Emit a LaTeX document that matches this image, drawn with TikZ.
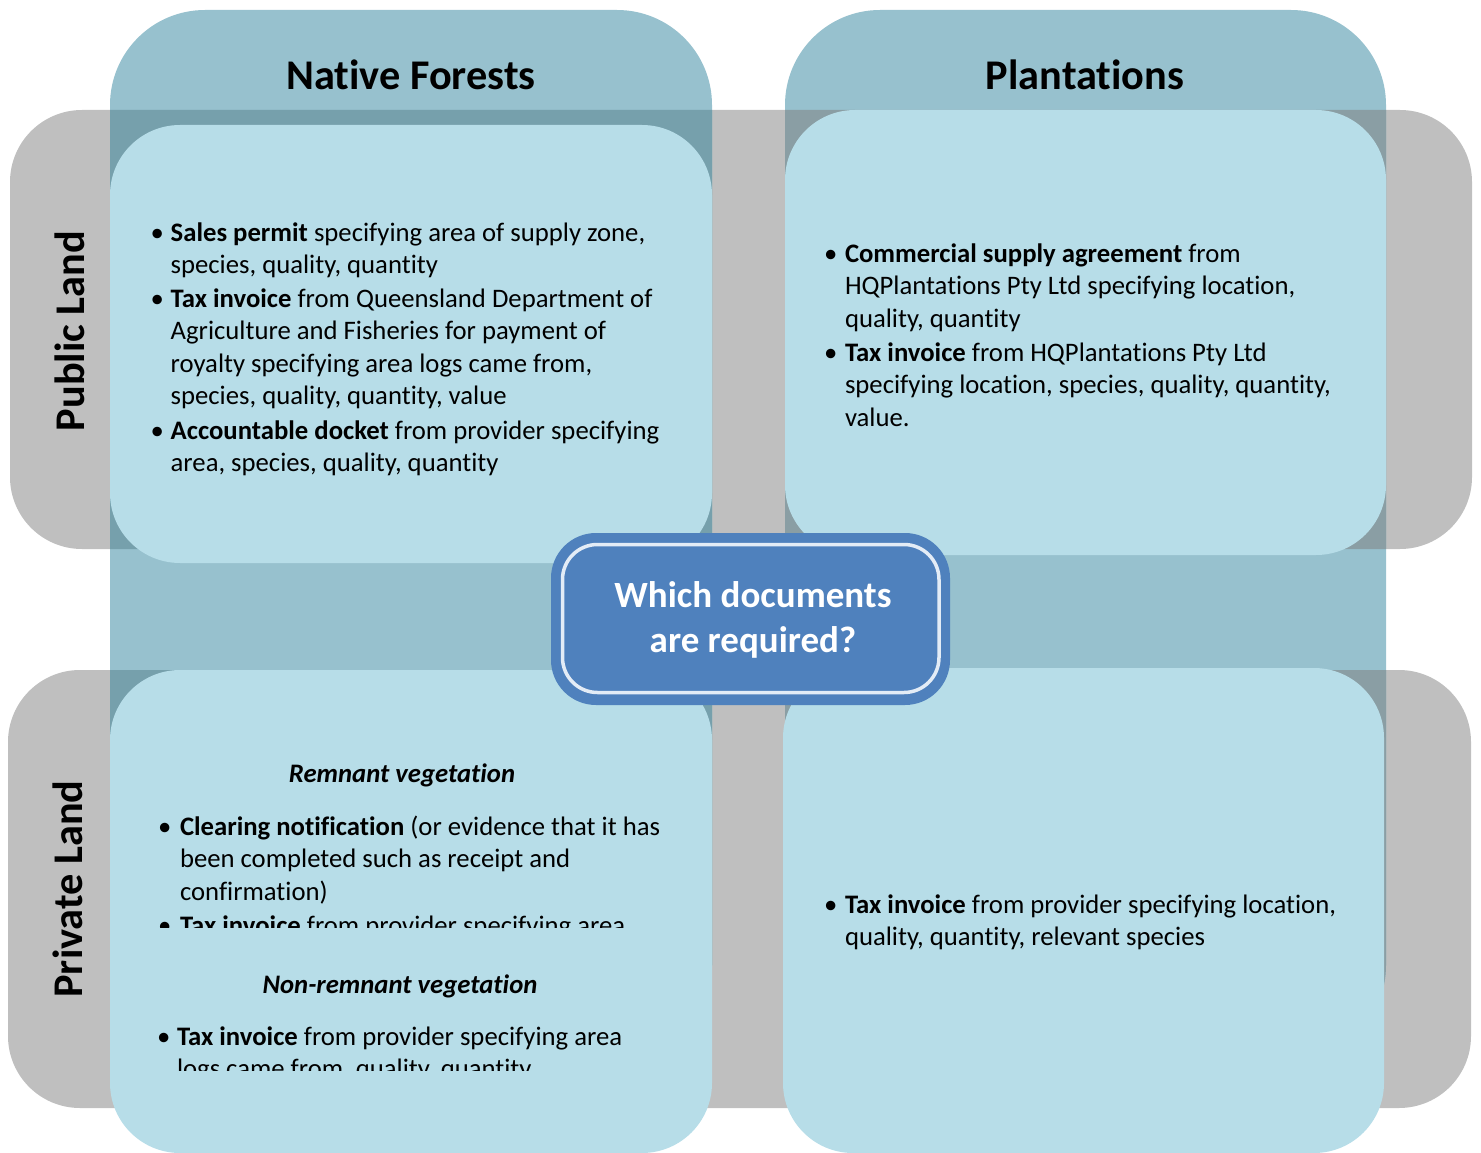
\documentclass[tikz,border=0pt]{standalone}
\usepackage{fontspec}
\setmainfont{Carlito}[Ligatures={NoCommon}]
\definecolor{graybg}{HTML}{BFBFBF}
\definecolor{colbg}{HTML}{97C1CE}
\definecolor{ovnat}{HTML}{76A0AC}
\definecolor{ovpla}{HTML}{8A9EA4}
\definecolor{cellbg}{HTML}{B7DDE8}
\definecolor{qblue}{HTML}{4F81BD}
\definecolor{qline}{HTML}{E3ECF6}
\newcommand{\bodyfont}{\fontsize{26.7}{32.5}\selectfont}
\newcommand{\titlefont}{\fontsize{42.3}{50}\selectfont\bfseries}
\newcommand{\qfont}{\fontsize{37}{45}\selectfont\bfseries}
\newcommand{\bitem}[2]{\begin{tabular}[t]{@{}l@{}l@{}}\makebox[#1pt][l]{\textbullet}&#2\end{tabular}}
\tikzset{
  bodytext/.style={anchor=base west, inner sep=0pt, outer sep=0pt, font=\bodyfont, text=black},
  headtext/.style={anchor=base, inner sep=0pt, font=\titlefont, text=black},
  subhead/.style={anchor=base, inner sep=0pt, font=\bodyfont\bfseries\itshape, text=black},
  band/.style={fill=graybg, rounded corners=72pt},
  column/.style={fill=colbg, rounded corners=95pt},
  cell/.style={fill=cellbg, rounded corners=70pt}
}
\begin{document}
\begin{tikzpicture}[x=1pt,y=-1pt]
\useasboundingbox (0,0) rectangle (1481,1153);
% gray bands
\fill[band] (10,110) rectangle (1472,549);
\fill[band] (8,670) rectangle (1471,1108);
% columns
\fill[column] (110,10) rectangle (712,1060);
\fill[column] (785,10) rectangle (1386,1060);
\begin{scope}
  \clip[rounded corners=95pt] (110,10) rectangle (712,1060);
  \fill[ovnat, rounded corners=72pt] (10,110) rectangle (1472,549);
  \fill[ovnat, rounded corners=72pt] (8,670) rectangle (1471,1108);
\end{scope}
\begin{scope}
  \clip[rounded corners=95pt] (785,10) rectangle (1386,1060);
  \fill[ovpla, rounded corners=72pt] (10,110) rectangle (1472,549);
  \fill[ovpla, rounded corners=72pt] (8,670) rectangle (1471,1108);
\end{scope}
% cells
\fill[cell] (110,125) rectangle (712,563);
\fill[cell] (785,110) rectangle (1386,555);
\fill[cell] (110,670) rectangle (712,1153);
\fill[cell] (783,668) rectangle (1384,1153);
% centre box
\fill[qblue, rounded corners=45pt] (551,533) rectangle (950,705);
\draw[qline, line width=3.5pt, rounded corners=35pt] (562.5,544.5) rectangle (939,692.5);
\node[anchor=base, inner sep=0pt, font=\qfont, text=white] (q) at (753,607)
  {\begin{tabular}[t]{@{}c@{}}Which documents\\are required?\end{tabular}};
% headings
\node[headtext] (tnf) at (411,90) {Native Forests};
\node[headtext] (tpl) at (1085,90) {Plantations};
\node[headtext, rotate=90] (lpub) at (84,331) {Public Land};
\node[headtext, rotate=90] (lpri) at (82,889) {Private Land};
% native forests / public land
\node[bodytext] (np1) at (150.7,241) {\bitem{20}{\textbf{Sales permit} specifying area of supply zone,\\&species, quality, quantity}};
\node[bodytext] (np2) at (150.7,307) {\bitem{20}{\textbf{Tax invoice} from Queensland Department of\\&Agriculture and Fisheries for payment of\\&royalty specifying area logs came from,\\&species, quality, quantity, value}};
\node[bodytext] (np3) at (150.7,439) {\bitem{20}{\textbf{Accountable docket} from provider specifying\\&area, species, quality, quantity}};
% plantations / public land
\node[bodytext] (pp1) at (824,262) {\bitem{21}{\textbf{Commercial supply agreement} from\\&HQPlantations Pty Ltd specifying location,\\&quality, quantity}};
\node[bodytext] (pp2) at (824,361) {\bitem{21}{\textbf{Tax invoice} from HQPlantations Pty Ltd\\&specifying location, species, quality, quantity,\\&value.}};
% native forests / private land
\node[subhead] (rem) at (402,782) {Remnant vegetation};
\begin{scope}
  \clip (120,750) rectangle (700,927);
  \node[bodytext] (nv1) at (158,835) {\bitem{22}{\textbf{Clearing notification} (or evidence that it has\\&been completed such as receipt and\\&confirmation)}};
  \node[bodytext] (nv2) at (158,934) {\bitem{22}{\textbf{Tax invoice} from provider specifying area}};
\end{scope}
\node[subhead] (nrem) at (400,993) {Non-remnant vegetation};
\begin{scope}
  \clip (120,1010) rectangle (700,1070);
  \node[bodytext] (nv3) at (157,1045) {\bitem{20}{\textbf{Tax invoice} from provider specifying area\\&logs came from, quality, quantity}};
\end{scope}
% plantations / private land
\node[bodytext] (pv1) at (824,913) {\bitem{21}{\textbf{Tax invoice} from provider specifying location,\\&quality, quantity, relevant species}};
\end{tikzpicture}
\end{document}
